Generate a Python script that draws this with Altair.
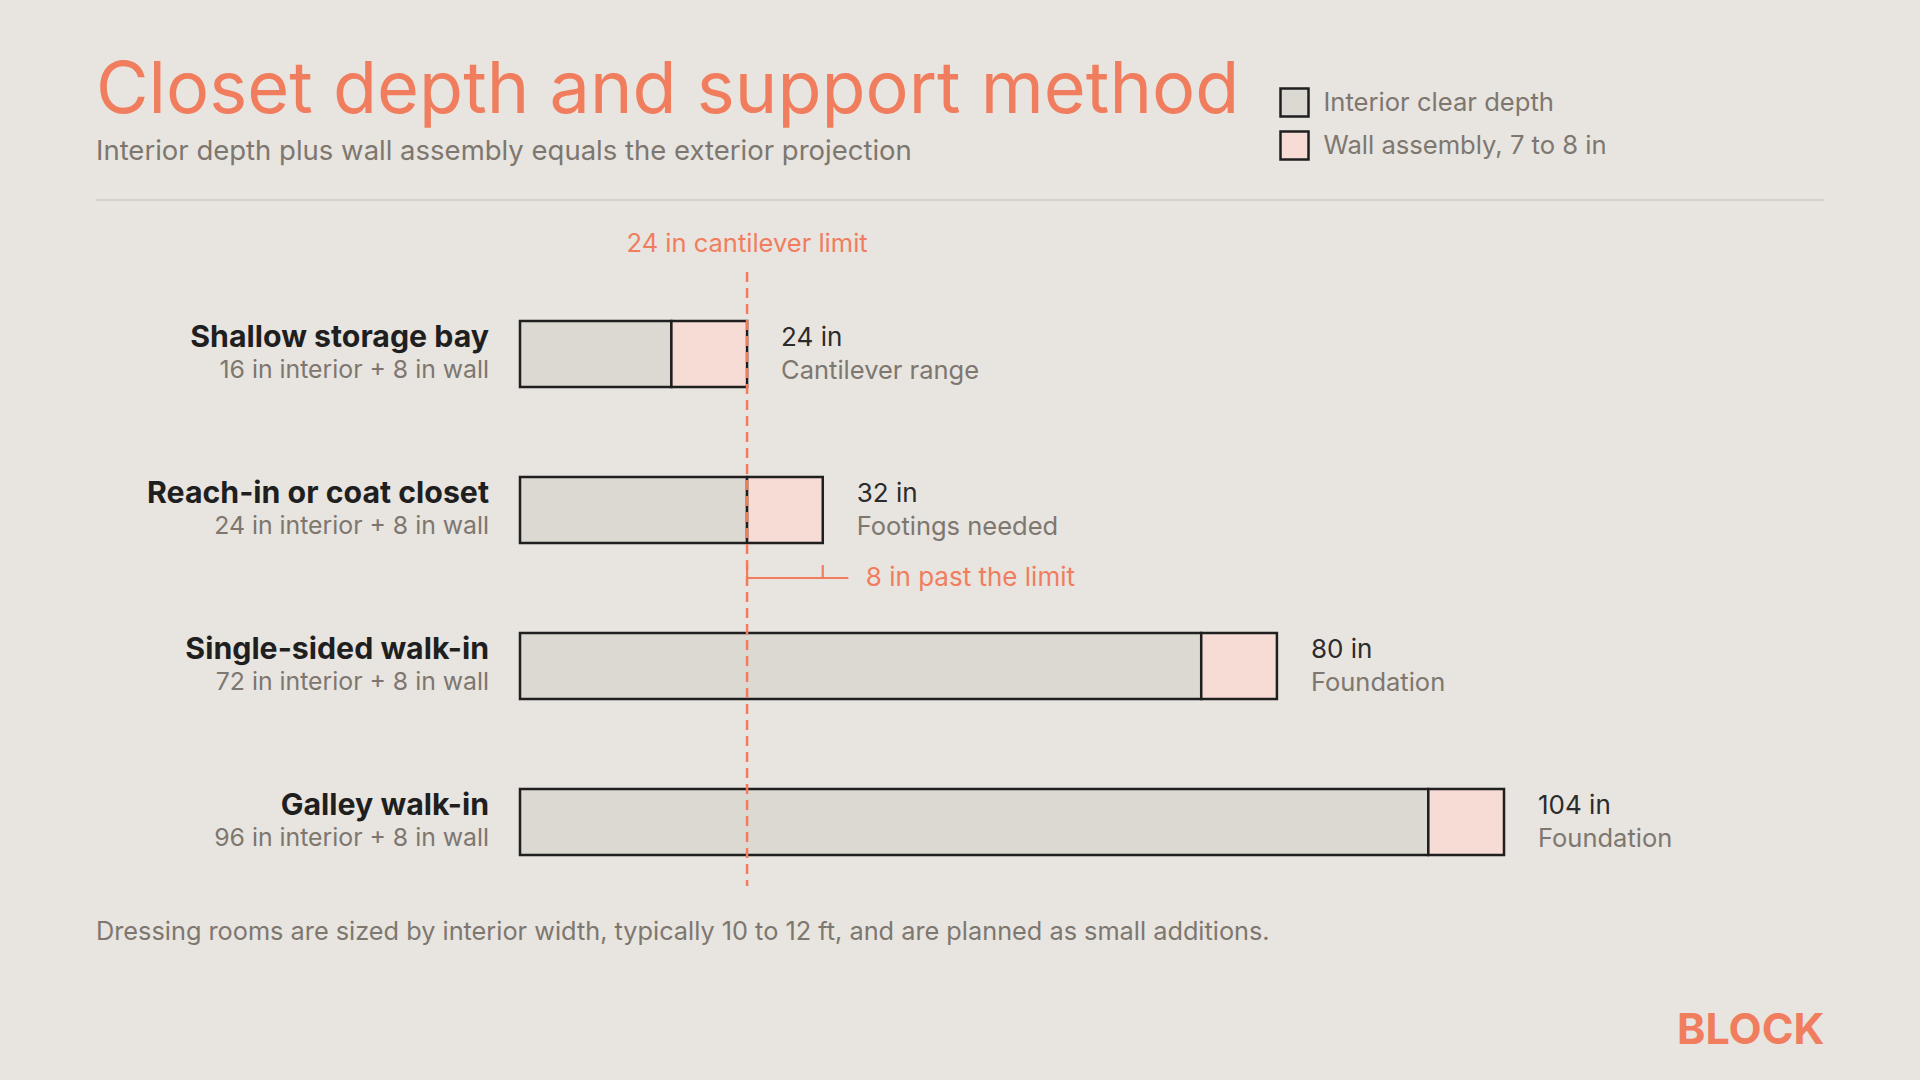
import altair as alt
import pandas as pd

# ---- data ----
names = ["Shallow storage bay", "Reach-in or coat closet", "Single-sided walk-in", "Galley walk-in"]
interior = [16, 24, 72, 96]
wall = [8, 8, 8, 8]
notes = ["Cantilever range", "Footings needed", "Foundation", "Foundation"]
segments = ["Interior clear depth", "Wall assembly, 7 to 8 in"]
seg_colors = ["#dcd8d2", "#f6dcd5"]
limit = 24
bracket_end = 34.7

totals = [i + w for i, w in zip(interior, wall)]
rows = pd.DataFrame({
    "name": names,
    "sub": [f"{i} in interior + {w} in wall" for i, w in zip(interior, wall)],
    "total": totals,
    "total_label": [f"{t} in" for t in totals],
    "note": notes,
})
seg_rows = []
for n, i, t in zip(names, interior, totals):
    seg_rows.append({"name": n, "segment": segments[0], "start": 0, "end": i})
    seg_rows.append({"name": n, "segment": segments[1], "start": i, "end": t})
segs = pd.DataFrame(seg_rows)

FONT = "Inter"
CORAL = "#f07e5e"
GRAY = "#7d7770"
DARK = "#1f1f1f"
BG = "#e8e4df"

xscale = alt.Scale(domain=[0, 104], nice=False, zero=False)
yenc = alt.Y("name:N", sort=names, axis=None,
             scale=alt.Scale(paddingInner=0, paddingOuter=0))

bars = alt.Chart(segs).mark_bar(height=66, stroke=DARK, strokeWidth=2.5).encode(
    x=alt.X("start:Q", scale=xscale, axis=None),
    x2="end:Q",
    y=yenc,
    fill=alt.Fill("segment:N", sort=segments,
                  scale=alt.Scale(domain=segments, range=seg_colors),
                  legend=alt.Legend(title=None, orient="none", legendX=759, legendY=-189,
                                    symbolType="square", symbolSize=784,
                                    symbolStrokeColor=DARK, symbolStrokeWidth=2.5,
                                    labelFont=FONT, labelFontSize=25.6, labelColor=GRAY,
                                    labelLimit=600, labelOffset=13.5, rowPadding=4, padding=0)),
)

name_txt = alt.Chart(rows).mark_text(align="right", baseline="middle", dy=-16.5, font=FONT,
                                     fontSize=30.3, fontWeight="bold", color=DARK).encode(
    x=alt.value(-31), y=yenc, text="name:N")
sub_txt = alt.Chart(rows).mark_text(align="right", baseline="middle", dy=16.5, font=FONT,
                                    fontSize=24.8, color=GRAY).encode(
    x=alt.value(-31), y=yenc, text="sub:N")
tot_txt = alt.Chart(rows).mark_text(align="left", baseline="middle", dx=34, dy=-16.5, font=FONT,
                                    fontSize=26, color="#2b2b2b").encode(
    x=alt.X("total:Q", scale=xscale), y=yenc, text="total_label:N")
note_txt = alt.Chart(rows).mark_text(align="left", baseline="middle", dx=34, dy=16.5, font=FONT,
                                     fontSize=25.5, color=GRAY).encode(
    x=alt.X("total:Q", scale=xscale), y=yenc, text="note:N")

limit_df = pd.DataFrame({"limit": [limit], "past": [totals[1]], "end": [bracket_end],
                         "label": [f"{limit} in cantilever limit"],
                         "past_label": [f"{totals[1] - limit} in past the limit"]})

dash = alt.Chart(limit_df).mark_rule(color=CORAL, strokeWidth=2.5, strokeDash=[10, 6]).encode(
    x=alt.X("limit:Q", scale=xscale), y=alt.value(-4), y2=alt.value(610))
limit_txt = alt.Chart(limit_df).mark_text(align="center", baseline="middle", font=FONT,
                                          fontSize=25.5, color=CORAL).encode(
    x=alt.X("limit:Q", scale=xscale), y=alt.value(-32), text="label:N")
br_line = alt.Chart(limit_df).mark_rule(color=CORAL, strokeWidth=2.2).encode(
    x=alt.X("limit:Q", scale=xscale), x2="end:Q", y=alt.value(302))
br_tick1 = alt.Chart(limit_df).mark_rule(color=CORAL, strokeWidth=2.2).encode(
    x=alt.X("limit:Q", scale=xscale), y=alt.value(287), y2=alt.value(302))
br_tick2 = alt.Chart(limit_df).mark_rule(color=CORAL, strokeWidth=2.2).encode(
    x=alt.X("past:Q", scale=xscale), y=alt.value(289), y2=alt.value(302))
br_txt = alt.Chart(limit_df).mark_text(align="left", baseline="middle", dx=43, font=FONT,
                                       fontSize=26, color=CORAL).encode(
    x=alt.X("past:Q", scale=xscale), y=alt.value(302), text="past_label:N")

deco = pd.DataFrame({
    "title": ["Closet depth and support method"],
    "subtitle": ["Interior depth plus wall assembly equals the exterior projection"],
    "footer": ["Dressing rooms are sized by interior width, typically 10 to 12 ft, and are planned as small additions."],
    "brand": ["BLOCK"],
})
title = alt.Chart(deco).mark_text(align="left", baseline="alphabetic", font=FONT, fontSize=72,
                                  color=CORAL).encode(x=alt.value(-424), y=alt.value(-163), text="title:N")
subtitle = alt.Chart(deco).mark_text(align="left", baseline="alphabetic", font=FONT, fontSize=27.5,
                                     color=GRAY).encode(x=alt.value(-424), y=alt.value(-116), text="subtitle:N")
sep = alt.Chart(deco).mark_rule(color="#d6d0c9", strokeWidth=2).encode(
    x=alt.value(-424), x2=alt.value(1304), y=alt.value(-76))
footer = alt.Chart(deco).mark_text(align="left", baseline="middle", font=FONT, fontSize=25.3,
                                   color=GRAY).encode(x=alt.value(-424), y=alt.value(656), text="footer:N")
brand = alt.Chart(deco).mark_text(align="right", baseline="middle", font=FONT, fontSize=43,
                                  fontWeight="bold", color=CORAL).encode(x=alt.value(1304.5), y=alt.value(755), text="brand:N")

chart = alt.layer(
    bars, dash, name_txt, sub_txt, tot_txt, note_txt, limit_txt,
    br_line, br_tick1, br_tick2, br_txt, title, subtitle, sep, footer, brand,
).properties(
    width=984, height=624,
    padding={"left": 512, "top": 268, "right": 408, "bottom": 168},
    autosize=alt.AutoSizeParams(type="none"),
).configure(background=BG).configure_view(stroke=None)

# page background matches the chart background
try:
    import altair.utils.html as _h
    _orig = _h.TEMPLATES["standard"]

    class _Wrap:
        def render(self, **kw):
            html = _orig.render(**kw)
            return html.replace("<head>", "<head><style>html,body{background:%s;}</style>" % BG, 1)

    _h.TEMPLATES["standard"] = _Wrap()
except Exception:
    pass

chart.save("out.html", embed_options={"renderer": "svg", "actions": False})
